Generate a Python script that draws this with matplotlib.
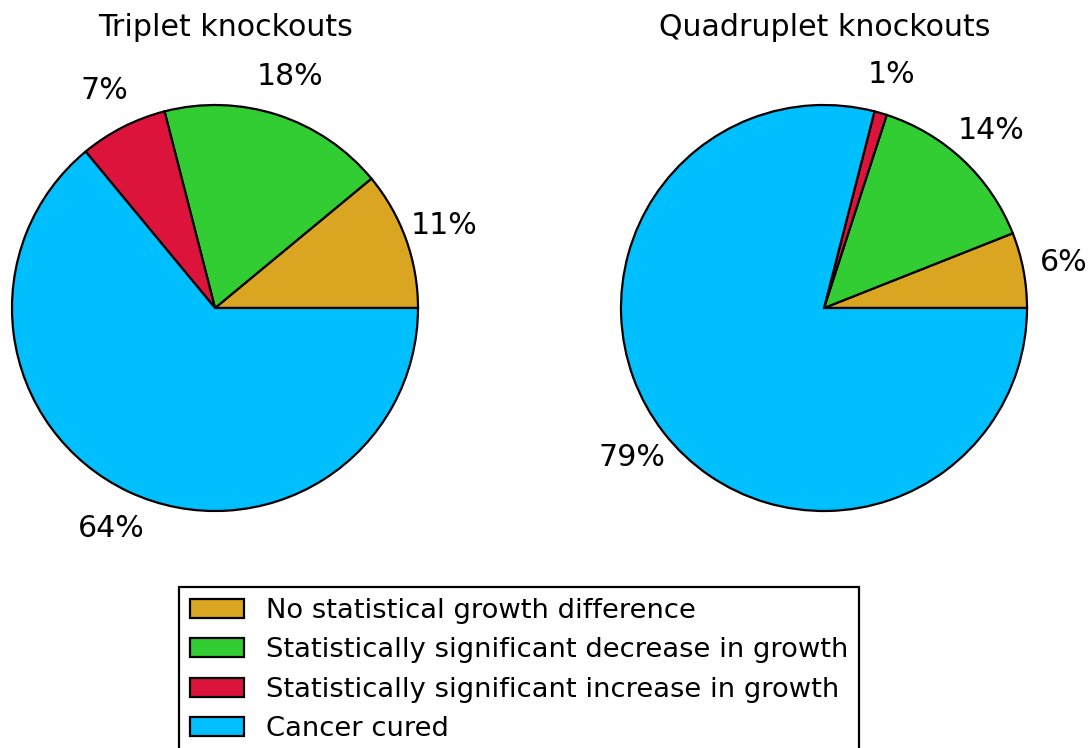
import matplotlib
matplotlib.use("Agg")
import matplotlib.pyplot as plt

categories = ["No statistical growth difference",
              "Statistically significant decrease in growth",
              "Statistically significant increase in growth",
              "Cancer cured"]
triplet_values = [11, 18, 7, 64]
quadruplet_values = [6, 14, 1, 79]
titles = ["Triplet knockouts", "Quadruplet knockouts"]
colors = ["goldenrod", "limegreen", "crimson", "deepskyblue"]

W, H = 1092, 748
fig = plt.figure(figsize=(W / 100, H / 100), dpi=100)
FS = 21.6
LFS = 19.7

R = 203
centers = [(215, 308), (824, 308)]
title_x = [225, 825]
wedges_all = []
for (cx, cy), vals, t, tx in zip(centers, [triplet_values, quadruplet_values], titles, title_x):
    ax = fig.add_axes([(cx - R) / W, (H - cy - R) / H, 2 * R / W, 2 * R / H])
    wedges, _, autotexts = ax.pie(vals, colors=colors, autopct="%1.0f%%", pctdistance=1.2,
                                  wedgeprops=dict(edgecolor="black", linewidth=1.6),
                                  textprops=dict(fontsize=FS))
    ax.set_xlim(-1, 1)
    ax.set_ylim(-1, 1)
    ax.set_aspect("equal")
    wedges_all = wedges
    fig.text(tx / W, 1 - 27 / H, t, ha="center", va="center", fontsize=FS)

leg = fig.legend(wedges_all, categories, loc="upper center", bbox_to_anchor=(519 / W, 1 - 587 / H),
                 fontsize=LFS, frameon=True, fancybox=False, edgecolor="black", framealpha=1,
                 borderaxespad=0, labelspacing=0.49)
leg.get_frame().set_linewidth(1.6)

fig.savefig("out.png", dpi=100)
